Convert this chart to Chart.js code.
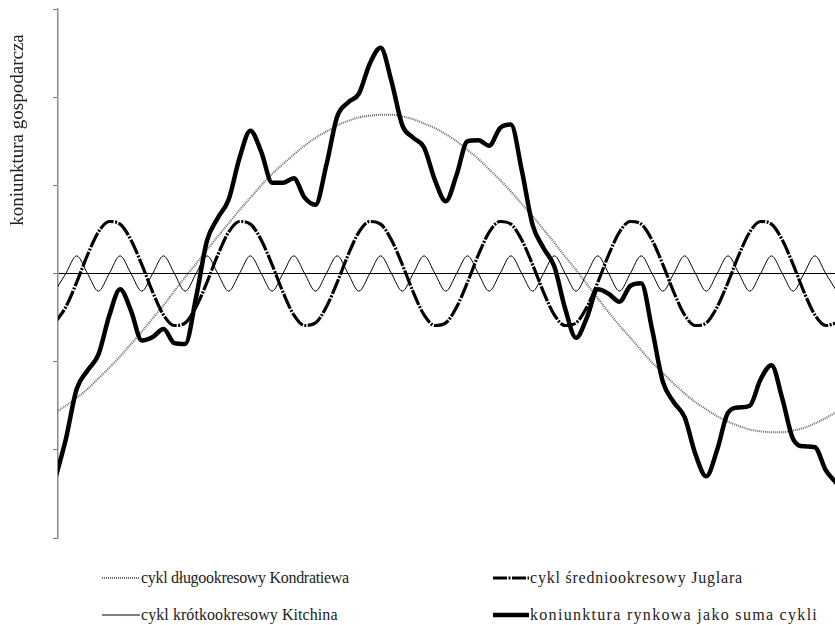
<!DOCTYPE html>
<html lang="pl">
<head>
<meta charset="utf-8">
<title>Cykle koniunkturalne</title>
<script src="https://cdn.jsdelivr.net/npm/chart.js@4.4.1/dist/chart.umd.min.js"></script>
<style>
    body { margin: 0; background: #fff; }
    #wrap { position: relative; width: 835px; height: 625px; overflow: hidden; }
    #chart { position: absolute; left: 0; top: 0; }
    .legend-item {
        position: absolute;
        display: flex;
        align-items: center;
        font-family: "Liberation Serif", "Times New Roman", serif;
        font-size: 16px;
        color: #222;
        white-space: nowrap;
        height: 20px;
    }
    .legend-item svg { display: block; margin-right: 1px; }
</style>
</head>
<body>
<div id="wrap">
    <canvas id="chart" width="835" height="545"></canvas>
    <div id="legend"></div>
</div>
<script>
// time axis (years) and the four curves
const years = [-0.21, 0.54, 1.29, 2.04, 2.79, 3.54, 4.29, 5.04, 5.79, 6.54,
    7.29, 8.04, 8.79, 9.54, 10.29, 11.04, 11.79, 12.54, 13.29, 14.04,
    14.79, 15.54, 16.29, 17.04, 17.79, 18.54, 19.29, 20.04, 20.79, 21.54,
    22.29, 23.04, 23.79, 24.54, 25.29, 26.04, 26.79, 27.54, 28.29, 29.04,
    29.79, 30.54, 31.29, 32.04, 32.79, 33.54, 34.29, 35.04, 35.79, 36.54,
    37.29, 38.04, 38.79, 39.54, 40.29, 41.04, 41.79, 42.54, 43.29, 44.04,
    44.79, 45.54, 46.29, 47.04, 47.79, 48.54, 49.29, 50.04, 50.79, 51.54,
    52.29, 53.04, 53.79];

const kondratiew = [-1.58, -1.50, -1.41, -1.31, -1.19, -1.07, -0.94, -0.80, -0.66, -0.51,
    -0.36, -0.20, -0.04, 0.11, 0.27, 0.42, 0.57, 0.72, 0.86, 1.00,
    1.13, 1.24, 1.35, 1.45, 1.54, 1.61, 1.68, 1.73, 1.77, 1.79,
    1.80, 1.80, 1.78, 1.75, 1.70, 1.65, 1.58, 1.50, 1.40, 1.30,
    1.18, 1.06, 0.93, 0.79, 0.65, 0.50, 0.35, 0.19, 0.04, -0.12,
    -0.28, -0.44, -0.59, -0.73, -0.87, -1.01, -1.13, -1.25, -1.36, -1.46,
    -1.54, -1.62, -1.68, -1.73, -1.77, -1.79, -1.80, -1.80, -1.78, -1.75,
    -1.70, -1.64, -1.57];

const juglar = [-0.56, -0.38, -0.10, 0.21, 0.47, 0.59, 0.56, 0.38, 0.10, -0.21, -0.47, -0.59,
    -0.56, -0.38, -0.10, 0.21, 0.47, 0.59, 0.56, 0.38, 0.10, -0.21, -0.47, -0.59,
    -0.56, -0.38, -0.10, 0.21, 0.47, 0.59, 0.56, 0.38, 0.10, -0.21, -0.47, -0.59,
    -0.56, -0.38, -0.10, 0.21, 0.47, 0.59, 0.56, 0.38, 0.10, -0.21, -0.47, -0.59,
    -0.56, -0.38, -0.10, 0.21, 0.47, 0.59, 0.56, 0.38, 0.10, -0.21, -0.47, -0.59,
    -0.56, -0.38, -0.10, 0.21, 0.47, 0.59, 0.56, 0.38, 0.10, -0.21, -0.47, -0.59,
    -0.56];

const kitchin = [-0.2, 0, 0.2, 0, -0.2, 0, 0.2, 0, -0.2, 0, 0.2, 0,
    -0.2, 0, 0.2, 0, -0.2, 0, 0.2, 0, -0.2, 0, 0.2, 0,
    -0.2, 0, 0.2, 0, -0.2, 0, 0.2, 0, -0.2, 0, 0.2, 0,
    -0.2, 0, 0.2, 0, -0.2, 0, 0.2, 0, -0.2, 0, 0.2, 0,
    -0.2, 0, 0.2, 0, -0.2, 0, 0.2, 0, -0.2, 0, 0.2, 0,
    -0.2, 0, 0.2, 0, -0.2, 0, 0.2, 0, -0.2, 0, 0.2, 0,
    -0.2];

const koniunktura = [-2.34, -1.88, -1.31, -1.10, -0.92, -0.48, -0.18, -0.42, -0.76, -0.72,
    -0.63, -0.79, -0.80, -0.27, 0.37, 0.63, 0.84, 1.31, 1.62, 1.38,
    1.03, 1.03, 1.08, 0.86, 0.78, 1.23, 1.78, 1.94, 2.04, 2.38,
    2.56, 2.18, 1.68, 1.54, 1.43, 1.06, 0.82, 1.12, 1.50, 1.51,
    1.45, 1.65, 1.69, 1.17, 0.55, 0.29, 0.08, -0.40, -0.73, -0.50,
    -0.18, -0.23, -0.32, -0.14, -0.11, -0.63, -1.23, -1.46, -1.63, -2.05,
    -2.30, -2.00, -1.58, -1.52, -1.50, -1.20, -1.04, -1.42, -1.88, -1.96,
    -1.97, -2.23, -2.38];

const seriesNames = [
    'cykl długookresowy Kondratiewa',
    'cykl średniookresowy Juglara',
    'cykl krótkookresowy Kitchina',
    'koniunktura rynkowa jako suma cykli'
];
const yTicks = [-3, -2, -1, 0, 1, 2, 3];
const axisTitle = 'koniunktura gospodarcza';

function points(values) {
    return values.map((v, i) => ({ x: years[i], y: v }));
}

// rotated y-axis title, sits above the middle of the axis like in the original
const axisTitlePlugin = {
    id: 'axisTitle',
    afterDraw(chart) {
        const c = chart.ctx;
        c.save();
        c.translate(18, 130);
        c.rotate(-Math.PI / 2);
        c.font = '19px "Liberation Serif", "Times New Roman", serif';
        c.fillStyle = '#222';
        c.textAlign = 'center';
        c.textBaseline = 'middle';
        c.fillText(axisTitle, 0, 0);
        c.restore();
    }
};

new Chart(document.getElementById('chart'), {
    type: 'line',
    data: {
        datasets: [
            {
                label: seriesNames[3],
                data: points(koniunktura),
                borderColor: '#000',
                borderWidth: 4.5,
                order: 0
            },
            {
                label: seriesNames[1],
                data: points(juglar),
                borderColor: '#000',
                borderWidth: 3.2,
                borderDash: [16, 1.5, 2, 1.5],
                order: 1
            },
            {
                label: seriesNames[2],
                data: points(kitchin),
                borderColor: '#000',
                borderWidth: 1,
                order: 2
            },
            {
                label: seriesNames[0],
                data: points(kondratiew),
                borderColor: '#6a6a6a',
                borderWidth: 2,
                borderDash: [1, 1],
                order: 3
            }
        ]
    },
    options: {
        responsive: false,
        animation: false,
        layout: { padding: { left: 53, top: 9, right: 0, bottom: 7 } },
        elements: {
            point: { radius: 0 },
            line: { cubicInterpolationMode: 'monotone', fill: false }
        },
        plugins: {
            legend: { display: false },
            tooltip: { enabled: false }
        },
        scales: {
            x: { type: 'linear', min: 0, max: 53.68, display: false },
            y: {
                min: yTicks[0],
                max: yTicks[yTicks.length - 1],
                afterBuildTicks: axis => { axis.ticks = yTicks.map(v => ({ value: v })); },
                ticks: { display: false },
                grid: {
                    color: ctx => (ctx.tick && ctx.tick.value === 0) ? '#000' : 'rgba(0,0,0,0)',
                    tickColor: '#7a7a7a',
                    tickLength: 5,
                    lineWidth: 1
                },
                border: { color: '#8a8a8a', width: 1.5 }
            }
        }
    },
    plugins: [axisTitlePlugin]
});

// legend in a 2x2 grid below the chart
const legendSamples = [
    '<line x1="0" y1="5" x2="38" y2="5" stroke="#6a6a6a" stroke-width="2" stroke-dasharray="1,1"/>',
    '<line x1="0" y1="5" x2="36" y2="5" stroke="#000" stroke-width="3" stroke-dasharray="14,1.5,2,1.5"/>',
    '<line x1="0" y1="5" x2="38" y2="5" stroke="#000" stroke-width="1"/>',
    '<line x1="0" y1="5" x2="36" y2="5" stroke="#000" stroke-width="4.5"/>'
];
// spacing stretches each label to the width it has in the picture
const legendPos = [
    { left: 102, top: 568, w: 38, spacing: -0.3 },
    { left: 493, top: 568, w: 36, spacing: 0.78 },
    { left: 102, top: 605, w: 38, spacing: 0.07 },
    { left: 493, top: 605, w: 36, spacing: 1.3 }
];

let html = '';
seriesNames.forEach((name, i) => {
    const p = legendPos[i];
    html += `
        <div class="legend-item" style="left:${p.left}px; top:${p.top}px;">
            <svg width="${p.w}" height="10">${legendSamples[i]}</svg>
            <span style="letter-spacing:${p.spacing}px">${name}</span>
        </div>
    `;
});
document.getElementById('legend').innerHTML = html;
</script>
</body>
</html>
